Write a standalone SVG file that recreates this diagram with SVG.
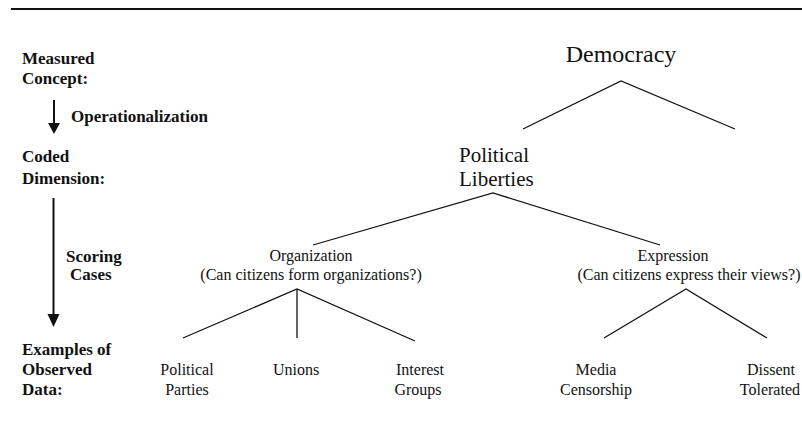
<svg xmlns="http://www.w3.org/2000/svg" width="802" height="427" viewBox="0 0 802 427">
<style>
.lbl{font-family:"Liberation Serif","Times New Roman",serif;font-weight:bold;font-size:17px;fill:#111}
.n{font-family:"Liberation Serif","Times New Roman",serif;font-size:16px;fill:#111;text-anchor:middle}
.big{font-family:"Liberation Serif","Times New Roman",serif;fill:#111}
.e{stroke:#111;stroke-width:1.3;fill:none}
</style>
<rect width="802" height="427" fill="#fff"/>
<line x1="11" y1="9" x2="802" y2="9" stroke="#111" stroke-width="2"/>

<g id="labels">
<text class="lbl" x="22" y="64">Measured</text>
<text class="lbl" x="22" y="84">Concept:</text>
<text class="lbl" x="71" y="122">Operationalization</text>
<text class="lbl" x="22" y="162">Coded</text>
<text class="lbl" x="22" y="184">Dimension:</text>
<text class="lbl" x="66" y="262">Scoring</text>
<text class="lbl" x="70" y="280">Cases</text>
<text class="lbl" x="22" y="355">Examples of</text>
<text class="lbl" x="22" y="375">Observed</text>
<text class="lbl" x="22" y="395">Data:</text>
</g>

<g id="connectors">
<line x1="54" y1="100" x2="54" y2="124" stroke="#111" stroke-width="2"/>
<path d="M48,123 L60,123 L54,134 Z" fill="#111"/>
<line x1="53.5" y1="198" x2="53.5" y2="316" stroke="#111" stroke-width="2"/>
<path d="M47.5,314 L59.5,314 L53.5,327 Z" fill="#111"/>
<polyline class="e" points="523,129 621,81 735,129"/>
<polyline class="e" points="313,245 493,193 660,245"/>
<polyline class="e" points="183,338 297,289 415,341"/>
<line class="e" x1="297" y1="289" x2="297" y2="338"/>
<polyline class="e" points="604,338 686,289 767,338"/>
</g>

<g id="democracy">
<text class="big" x="621" y="62" font-size="24" text-anchor="middle">Democracy</text>
</g>
<g id="political-liberties">
<text class="big" x="459" y="162" font-size="21">Political</text>
<text class="big" x="459" y="186" font-size="21">Liberties</text>
</g>
<g id="organization">
<text class="n" x="311" y="261">Organization</text>
<text class="n" x="311" y="280">(Can citizens form organizations?)</text>
</g>
<g id="expression">
<text class="n" x="673" y="261">Expression</text>
<text class="n" x="689" y="280">(Can citizens express their views?)</text>
</g>
<g id="political-parties">
<text class="n" x="187" y="375">Political</text>
<text class="n" x="187" y="395">Parties</text>
</g>
<g id="unions">
<text class="n" x="296" y="375">Unions</text>
</g>
<g id="interest-groups">
<text class="n" x="420" y="375">Interest</text>
<text class="n" x="418" y="395">Groups</text>
</g>
<g id="media-censorship">
<text class="n" x="596" y="375">Media</text>
<text class="n" x="596" y="395">Censorship</text>
</g>
<g id="dissent-tolerated">
<text class="n" x="771" y="375">Dissent</text>
<text class="n" x="800" y="395" text-anchor="end" style="text-anchor:end">Tolerated</text>
</g>
</svg>
